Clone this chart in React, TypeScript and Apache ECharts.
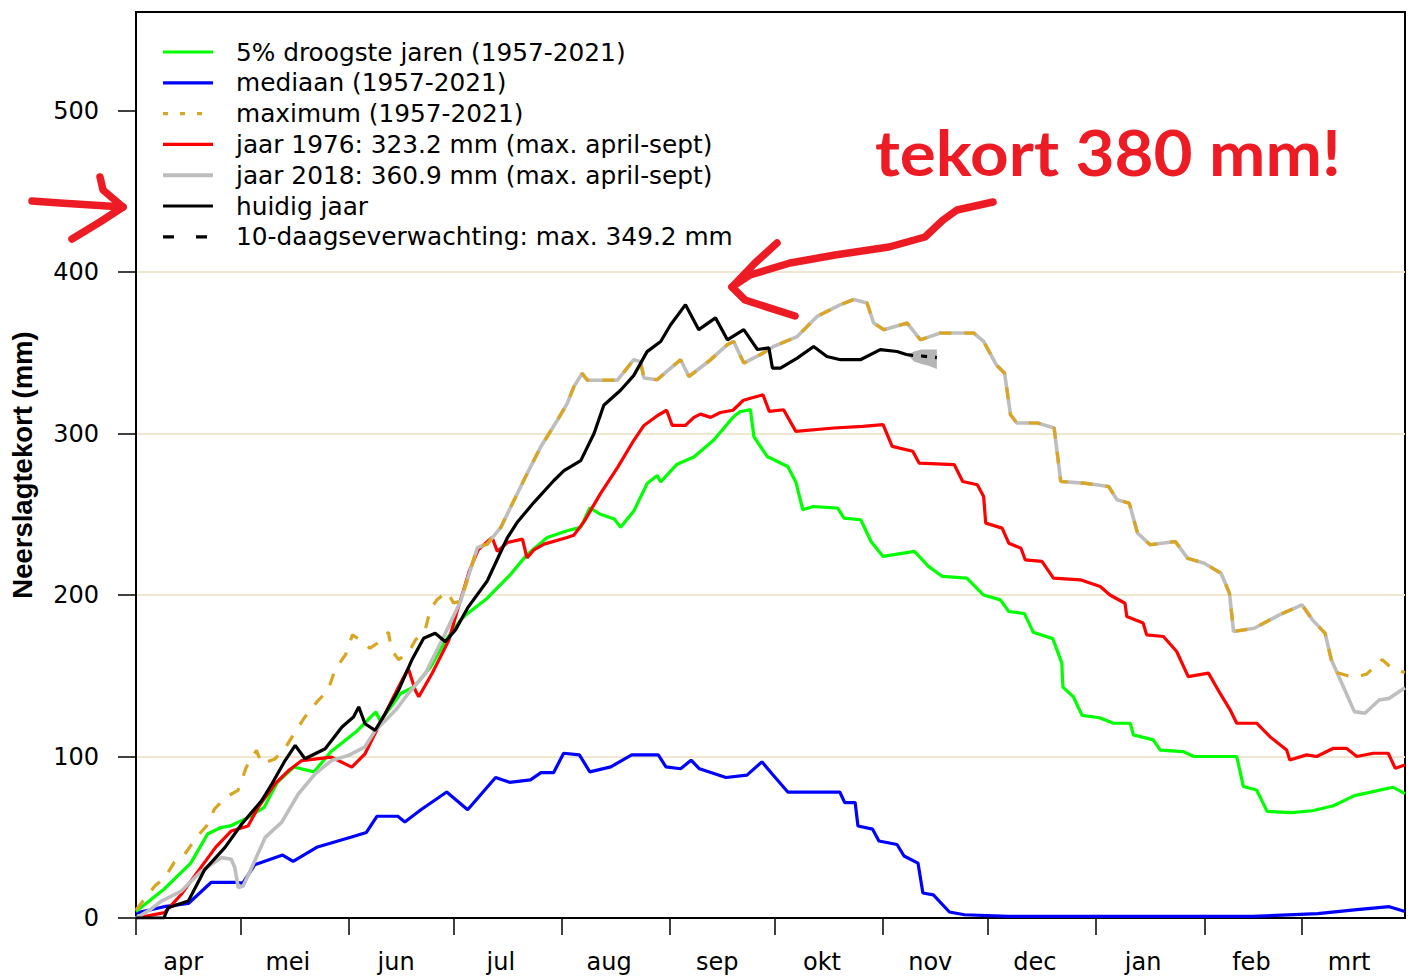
import React, { useEffect, useRef } from 'react';
import * as echarts from 'echarts';

// ---- axis definitions ----
const monthNames = ['apr', 'mei', 'jun', 'jul', 'aug', 'sep', 'okt', 'nov', 'dec', 'jan', 'feb', 'mrt'];
const monthStarts = [0, 30, 61, 91, 122, 153, 183, 214, 244, 275, 306, 334];
const monthLabelDays = [13.5, 43.5, 74.5, 104.5, 135.5, 166.5, 196.5, 227.5, 257.5, 288.5, 319.5, 347.5];
const yTicks = [0, 100, 200, 300, 400, 500];

// ---- series: [day since 1 april, deficit mm] ----
const droogste5: number[][] = [
  [0, 4], [8, 17.8], [15.7, 34], [20.5, 52], [24.3, 56], [27, 57], [31.9, 62], [36.7, 68.5], [40.5, 84],
  [45.2, 93.5], [51, 90.5], [55.8, 103], [63.4, 116], [68.7, 127.6], [70, 122], [75.8, 139], [79.6, 143],
  [84.4, 155.5], [88.7, 172], [93, 184.6], [95, 188.6], [100.6, 198], [107.3, 212.8], [112, 225],
  [117.8, 235.6], [123.5, 239.8], [127.4, 242], [130, 254], [133, 250], [137, 247], [138.8, 242],
  [142.6, 252], [146.4, 269], [149.3, 274], [150.3, 270], [155, 281], [159.8, 285.4], [165.5, 296],
  [171, 310], [173, 313.5], [176, 314.8], [177, 298], [180.8, 285.8], [186.7, 279.6], [189, 270],
  [191, 252.8], [194, 254.8], [201, 253.8], [202.8, 247.6], [207.6, 246.6], [210.6, 233], [214, 223.9],
  [223, 227], [227, 217.7], [231, 211.5], [238, 210.5], [242.8, 200], [247.6, 197], [250, 189.8],
  [254.5, 188.5], [257, 177], [262.6, 173], [265.2, 157.8], [265.5, 143], [268.5, 137], [271, 125.5],
  [276, 124], [280, 120.6], [284.8, 120.6], [285.7, 113.4], [291.4, 110.3], [293.4, 104], [300, 103],
  [303, 100], [315.3, 100], [317.2, 81.4], [321, 79.3], [324, 66], [331, 65.3], [337, 66.4], [343, 69.5],
  [349, 75.8], [353.4, 77.8], [360, 81], [363.5, 77],
];

const mediaan: number[][] = [
  [0, 3], [8, 7], [15, 9], [21.5, 22], [29, 22], [30.6, 21.6], [34, 33], [42, 39], [45, 35], [52, 44],
  [61.5, 50], [66, 53], [69, 63], [75, 63], [77, 59.5], [81.6, 67], [89, 78], [95, 67], [103, 87],
  [107, 84], [113, 85.5], [116, 90], [119.6, 90], [122.5, 102], [127, 101], [130, 90.5], [136, 93.6],
  [142, 101], [149.6, 101], [151.8, 93.6], [156, 92.4], [159, 97.7], [161.4, 92.4], [169, 87],
  [175, 88.5], [179.3, 96.7], [182.3, 89], [186.7, 78], [201.6, 78], [203, 71.5], [206, 71.5],
  [206.8, 57], [211, 55], [212.8, 47.7], [218, 45.5], [220, 38.4], [224, 34], [225.4, 15.5],
  [228.4, 14.3], [233, 3.7], [237.3, 2], [250, 1], [320, 1], [338.5, 2.7], [349, 5], [359, 7], [363.5, 4],
];

const maximum: number[][] = [
  [0, 5], [5.4, 19.8], [8.2, 24.8], [11, 34.6], [14, 39.6], [17.3, 49.9], [20.2, 57], [22.5, 67.5],
  [25.9, 75], [29.2, 79], [31.6, 93.4], [34.5, 103.8], [36, 95.4], [39.8, 98.5], [42.6, 104.7],
  [45.5, 115], [48.4, 124.5], [51.8, 133.8], [55, 141], [57, 153.6], [60, 163], [62, 175.3], [64.9, 171],
  [67, 167], [71, 173], [72.3, 177], [73.2, 166], [75.2, 160], [78, 164], [80, 172], [82.9, 179],
  [84.3, 191], [86.2, 197], [89.1, 202], [91, 195], [93, 196.3], [97.8, 229.4], [100.6, 231.5],
  [104.5, 241.9], [107.3, 254.3], [112, 275], [115.9, 291.6], [120.7, 308.2], [123.5, 318.5],
  [125.4, 328.9], [127.8, 337.2], [129.3, 333], [137.9, 333], [142.6, 345.7], [144.5, 344.5],
  [145.5, 334.4], [149.3, 333.3], [156, 345.7], [158.4, 335.3], [164.6, 345.7], [169.4, 355],
  [171.2, 357], [174.1, 343.6], [179.8, 350], [182.7, 354], [189.4, 360], [195.1, 372.5],
  [201.8, 379.8], [205.6, 383], [209.4, 380.8], [211.3, 368.4], [214.2, 364.3], [220.9, 368.4],
  [224.7, 358], [230.4, 362.2], [240, 362.2], [242.8, 357], [246.4, 342.6], [248.8, 337.4],
  [250.5, 311.6], [252.3, 306.5], [258.3, 306.5], [263, 303.4], [264.9, 270.3], [271.4, 269.3],
  [278.6, 267.2], [281, 259], [284.5, 256.9], [286.9, 238.3], [290.5, 231.1], [297.7, 233.1],
  [301.2, 222.8], [306, 219.7], [310.8, 213.5], [313.2, 201.2], [314.4, 177.4], [320.3, 179.4],
  [327.5, 187.7], [334, 193.9], [337, 184.6], [340.6, 176.3], [342.4, 159.9], [344, 152],
  [348.5, 149], [352.5, 151], [355, 156], [357, 160], [360, 154], [363.5, 152],
];

const jaar1976: number[][] = [
  [0, 0], [8.2, 3.3], [13, 14.7], [17.8, 29], [22.8, 43.7], [27.3, 53.9], [32.1, 57], [35, 68.5],
  [39.8, 83], [43.7, 91.3], [47.5, 97.5], [56, 99.6], [61.8, 93.4], [65.6, 101.7], [67.5, 110],
  [75.2, 143], [78, 154.5], [80, 141], [81, 137], [84.8, 151.4], [89.6, 172], [92, 190], [95.5, 215],
  [98, 228], [102, 235.6], [103.5, 227], [106.4, 232.5], [110.7, 234.6], [112, 223], [114, 228],
  [116.9, 231.5], [123.5, 235.6], [125.4, 237], [128.3, 245.3], [133, 262.6], [138, 279.2],
  [142.6, 295.8], [145.5, 305], [149.3, 311], [152, 314.4], [153.6, 305], [157.4, 305], [159.8, 310],
  [161.7, 312], [164.6, 310], [167.4, 313], [171, 314.4], [174, 320.6], [179.6, 324], [181.4, 313.7],
  [185.5, 314.7], [189, 301.3], [199.9, 303.4], [208.2, 304.4], [214, 305.5], [216.6, 292],
  [222.5, 289], [224.3, 281.7], [234.4, 280.7], [236.8, 270.3], [241, 268.3], [242.8, 261],
  [243.4, 244.5], [248.1, 241.4], [250, 232.1], [253.5, 229], [254.7, 221.8], [259.5, 220.8],
  [262.8, 210.5], [270.5, 209.4], [276.2, 205.3], [279, 200], [283.3, 194.9], [283.8, 186.7],
  [288.5, 182.6], [289.5, 175.3], [294.3, 174.3], [298.1, 165], [301.4, 149.5], [307.2, 151.6],
  [310.5, 139.2], [313.4, 128.9], [315.3, 120.6], [321, 120.6], [324.8, 112.3], [329.6, 104],
  [330.5, 97.8], [335.3, 101], [338.2, 100], [343, 105.1], [346.8, 105], [349.7, 100], [354.4, 102],
  [358.7, 102], [360.7, 92.7], [363.5, 94.8],
];

const jaar2018: number[][] = [
  [0, 0], [4, 5], [7.3, 10.5], [13, 16.7], [18.7, 29], [24.5, 37.4], [27.3, 36.4], [28.3, 31.2],
  [29.3, 18.8], [30.7, 19.8], [34, 35.3], [37, 49.9], [41.7, 59.2], [46.5, 76.8], [51.3, 89.2],
  [56, 97.5], [60.9, 100.7], [65.6, 106], [68.5, 116], [74.3, 128.6], [78, 139], [82.9, 151.4],
  [88.6, 176.3], [93, 196.3], [97.8, 229.4], [100.6, 231.5], [104.5, 241.9], [107.3, 254.3],
  [112, 275], [115.9, 291.6], [120.7, 308.2], [123.5, 318.5], [125.4, 328.9], [127.8, 337.2],
  [129.3, 333], [137.9, 333], [142.6, 345.7], [144.5, 344.5], [145.5, 334.4], [149.3, 333.3],
  [156, 345.7], [158.4, 335.3], [164.6, 345.7], [169.4, 355], [171.2, 357], [174.1, 343.6],
  [179.8, 350], [182.7, 354], [189.4, 360], [195.1, 372.5], [201.8, 379.8], [205.6, 383],
  [209.4, 380.8], [211.3, 368.4], [214.2, 364.3], [220.9, 368.4], [224.7, 358], [230.4, 362.2],
  [240, 362.2], [242.8, 357], [246.4, 342.6], [248.8, 337.4], [250.5, 311.6], [252.3, 306.5],
  [258.3, 306.5], [263, 303.4], [264.9, 270.3], [271.4, 269.3], [278.6, 267.2], [281, 259],
  [284.5, 256.9], [286.9, 238.3], [290.5, 231.1], [297.7, 233.1], [301.2, 222.8], [306, 219.7],
  [310.8, 213.5], [313.2, 201.2], [314.4, 177.4], [320.3, 179.4], [327.5, 187.7], [334, 193.9],
  [337, 184.6], [340.6, 176.3], [342.4, 159.9], [345.4, 145.4], [349, 127.8], [352, 126.8],
  [356.1, 135], [359, 136], [363.5, 142.5],
];

const huidigJaar: number[][] = [
  [0, 0], [8, 0], [9.2, 6.4], [15, 10.5], [19.7, 30], [25.5, 43.7], [30.3, 58.2], [36, 72.7], [38.9, 83],
  [42.7, 97.5], [45.6, 106.9], [48.4, 98.6], [54.2, 104.8], [59, 118.3], [62.3, 124.5], [63.8, 130.7],
  [65.6, 120.3], [68.5, 116.2], [71.4, 126.6], [75.2, 141], [79, 159.7], [82.4, 173.2], [85.7, 176.3],
  [88.6, 171.1], [91.5, 178.4], [95, 192], [100.6, 208.7], [106.4, 235.6], [109.2, 245], [114, 257.4],
  [119.7, 270.9], [122.6, 277], [127.4, 283.2], [131.2, 300], [134, 317.5], [138.8, 326.8],
  [142.6, 336], [146.4, 350.7], [150.3, 357], [153.1, 367.2], [157.4, 379.8], [161.2, 364.3],
  [166, 371.6], [169.4, 358], [174.1, 364.3], [178, 352], [181.3, 353], [182.3, 340.5], [184.6, 340.5],
  [189.4, 346.7], [194.1, 353.9], [197.9, 347.7], [201.8, 345.7], [207.5, 345.7], [213.2, 351.9],
  [218, 350.8], [220.9, 348.8],
];

const forecastDays = [220.9, 223, 225, 227, 229.4];
const forecastMean = [348.8, 348.2, 348, 347.5, 347];
const forecastLow = [348.8, 344.5, 343, 342, 340];
const forecastHigh = [348.8, 351, 352, 352, 352];

const legendLabels = [
  '5% droogste jaren (1957-2021)',
  'mediaan (1957-2021)',
  'maximum (1957-2021)',
  'jaar 1976: 323.2 mm (max. april-sept)',
  'jaar 2018: 360.9 mm (max. april-sept)',
  'huidig jaar',
  '10-daagseverwachting: max. 349.2 mm',
];
const legendColors = ['#00ff00', '#0000ff', '#daa520', '#ff0000', '#bebebe', '#000000', '#000000'];

const RED = '#ed1c24';

export default function App() {
  const ref = useRef<HTMLDivElement>(null);

  useEffect(() => {
    if (!ref.current) return;
    const chart = echarts.init(ref.current, undefined, { renderer: 'svg' });
    const base = { type: 'line' as const, symbol: 'none', showSymbol: false, silent: true };
    const font = 'DejaVu Sans';

    const legendDash: any[] = [null, null, [5, 12], null, null, null, [11, 22]];
    const legendWidth = [3.2, 3.2, 3.2, 3.2, 4, 3.2, 3.2];
    const legendGraphics: any[] = [];
    legendLabels.forEach((label, i) => {
      const cy = 52 + i * 30.8;
      legendGraphics.push({
        type: 'line', z: 5, silent: true,
        shape: { x1: 163, y1: cy, x2: 213, y2: cy },
        style: { stroke: legendColors[i], lineWidth: legendWidth[i], lineDash: legendDash[i] || undefined },
      });
      legendGraphics.push({
        type: 'text', z: 5, silent: true, x: 236, y: cy,
        style: { text: label, fill: '#000', font: `24.8px "${font}"`, verticalAlign: 'middle', align: 'left' },
      });
    });

    const arrowStyle = { stroke: RED, lineWidth: 7.5, lineCap: 'round', lineJoin: 'round', fill: 'none' };

    const option: any = {
      animation: false,
      backgroundColor: '#ffffff',
      grid: {
        left: 135, right: 6, top: 12, bottom: 60,
        show: true, borderColor: '#000', borderWidth: 2, backgroundColor: 'transparent',
      },
      xAxis: {
        type: 'value', min: 0, max: 363.5,
        axisLine: { show: true, lineStyle: { color: '#000', width: 2 } },
        axisTick: { show: true, length: 17, lineStyle: { color: '#000', width: 1.5 }, customValues: monthStarts },
        axisLabel: {
          customValues: monthLabelDays, color: '#000', fontFamily: font, fontSize: 24, lineHeight: 24, margin: 32,
          formatter: (v: number) => {
            const i = monthLabelDays.findIndex((p) => Math.abs(p - v) < 0.01);
            return i >= 0 ? monthNames[i] : '';
          },
        },
        splitLine: { show: false },
      },
      yAxis: {
        type: 'value', min: 0, max: 561, interval: 100,
        name: 'Neerslagtekort (mm)', nameLocation: 'middle', nameGap: 100,
        nameTextStyle: { fontFamily: 'Liberation Sans', fontWeight: 'bold', fontSize: 27.5, color: '#000' },
        axisLine: { show: true, lineStyle: { color: '#000', width: 2 } },
        axisTick: { show: true, length: 18, lineStyle: { color: '#000', width: 1.5 }, customValues: yTicks },
        axisLabel: { customValues: yTicks, color: '#000', fontFamily: font, fontSize: 24, margin: 37 },
        splitLine: { show: true, showMaxLine: false, showMinLine: false, lineStyle: { color: '#efe7d0', width: 2 } },
      },
      graphic: [
        { type: 'rect', z: 1, silent: true, shape: { x: 137, y: 14, width: 698, height: 244 }, style: { fill: '#fff' } },
        ...legendGraphics,
        {
          type: 'text', z: 20, x: 875, y: 120, scaleX: 1.07, silent: true,
          style: { text: 'tekort 380 mm!', fill: RED, font: 'bold 63px Lato', verticalAlign: 'top', align: 'left' },
        },
        { type: 'polyline', z: 20, silent: true, shape: { points: [[32, 201], [60, 203], [123, 207]] }, style: arrowStyle },
        { type: 'polyline', z: 20, silent: true, shape: { points: [[100, 177], [103, 190], [123, 207], [100, 222], [72, 239]] }, style: arrowStyle },
        {
          type: 'polyline', z: 20, silent: true,
          shape: { points: [[993, 202], [957, 210], [943, 220], [925, 237], [889, 247], [835, 255], [790, 263], [750, 275], [732, 287]] },
          style: arrowStyle,
        },
        { type: 'polyline', z: 20, silent: true, shape: { points: [[777, 243], [755, 263], [732, 287], [745, 300], [795, 316]] }, style: arrowStyle },
      ],
      series: [
        { ...base, name: legendLabels[1], data: mediaan, z: 3, lineStyle: { color: '#0000ff', width: 3.2 } },
        { ...base, name: legendLabels[0], data: droogste5, z: 3, lineStyle: { color: '#00ff00', width: 3.2 } },
        { ...base, name: legendLabels[3], data: jaar1976, z: 3, lineStyle: { color: '#ff0000', width: 3.2 } },
        { ...base, name: legendLabels[4], data: jaar2018, z: 3, lineStyle: { color: '#bebebe', width: 3.6 } },
        { ...base, name: legendLabels[2], data: maximum, z: 4, lineStyle: { color: '#daa520', width: 3.2, type: [12, 13] } },
        {
          type: 'custom', name: 'verwachtingsband', z: 4, silent: true,
          data: [[forecastDays[0], forecastMean[0]]],
          renderItem: (_params: any, api: any) => {
            const upper = forecastDays.map((d, i) => api.coord([d, forecastHigh[i]]));
            const lower = forecastDays.map((d, i) => api.coord([d, forecastLow[i]])).reverse();
            return { type: 'polygon', shape: { points: upper.concat(lower) }, style: { fill: '#b4b4b4' } };
          },
        },
        { ...base, name: legendLabels[5], data: huidigJaar, z: 5, lineStyle: { color: '#000', width: 3.2 } },
        {
          ...base, name: legendLabels[6], z: 5,
          data: forecastDays.map((d, i) => [d, forecastMean[i]]),
          lineStyle: { color: '#000', width: 3.2, type: [6, 8] },
        },
      ],
    };
    chart.setOption(option);
    return () => chart.dispose();
  }, []);

  return <div ref={ref} style={{ position: 'absolute', left: 0, top: 0, width: 1411, height: 978 }} />;
}
